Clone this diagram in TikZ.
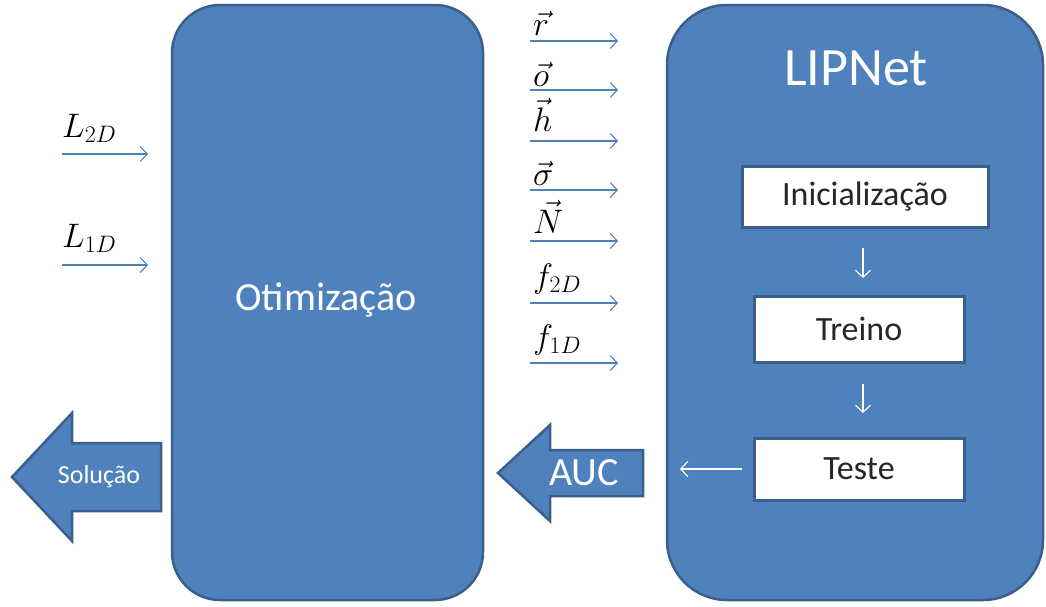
\RequirePackage{fix-cm}
\documentclass[tikz,border=0pt]{standalone}
\usepackage{fontspec}
\setmainfont{Carlito}
\usetikzlibrary{arrows.meta}
\definecolor{boxblue}{HTML}{4F81BD}
\definecolor{edgeblue}{HTML}{3A5F8C}
\tikzset{
  panel/.style={fill=boxblue, draw=edgeblue, line width=2.5pt},
  stage/.style={fill=white, draw=edgeblue, line width=3pt},
  stagetxt/.style={font=\fontsize{34}{38}\selectfont, text=black!85},
  feed/.style={draw=boxblue, line width=1.1pt, -{Straight Barb[length=7pt,width=15pt,line width=1.1pt]}},
  flow/.style={draw=white, line width=1.1pt, -{Straight Barb[length=7pt,width=15pt,line width=1.1pt]}},
  blockarrow/.style={fill=boxblue, draw=edgeblue, line width=2.5pt, line join=miter},
  mathlbl/.style={anchor=base west, inner sep=0pt, font=\fontsize{34}{38}\selectfont},
}
\begin{document}
\begin{tikzpicture}[x=1pt, y=-1pt]
\useasboundingbox (0,0) rectangle (1046,606);

% main panels
\draw[panel, rounded corners=48pt] (172,5) rectangle (483,600);
\node[text=white, font=\fontsize{40}{44}\selectfont] (otim) at (326,300) {Otimização};
\draw[panel, rounded corners=60pt] (667,5) rectangle (1043,600);
\node[text=white, font=\fontsize{54}{58}\selectfont] (lipnet) at (856,68) {LIPNet};

% LIPNet stages
\node[stage, minimum width=246pt, minimum height=61pt] (init) at (865,197) {};
\node[stagetxt] at (init) {Inicialização};
\node[stage, minimum width=210pt, minimum height=66pt] (treino) at (859,329) {};
\node[stagetxt] at (treino) {Treino};
\node[stage, minimum width=210pt, minimum height=62pt] (teste) at (859,469) {};
\node[stagetxt] at (teste) {Teste};

\coordinate (d1a) at (863,248); \coordinate (d1b) at (863,278);
\coordinate (d2a) at (863,384); \coordinate (d2b) at (863,413);
\coordinate (l1a) at (742,469); \coordinate (l1b) at (680,469);
\draw[flow] (d1a) -- (d1b);
\draw[flow] (d2a) -- (d2b);
\draw[flow] (l1a) -- (l1b);

% AUC block arrow
\draw[blockarrow] (498,473) -- (550,425) -- (550,450) -- (643,450) -- (643,496) -- (550,496) -- (550,521) -- cycle;
\node[text=white, font=\fontsize{40}{44}\selectfont] (auc) at (584,473) {AUC};

% Solucao block arrow
\draw[blockarrow] (12,477) -- (72,413) -- (72,443) -- (161,443) -- (161,511) -- (72,511) -- (72,541) -- cycle;
\node[text=white, font=\fontsize{26}{30}\selectfont] (sol) at (99,477) {Solução};

% inputs to Otimizacao
\coordinate (a1s) at (62,154); \coordinate (a1e) at (148,154);
\coordinate (a2s) at (62,265); \coordinate (a2e) at (148,265);
\draw[feed] (a1s) -- (a1e);
\draw[feed] (a2s) -- (a2e);
\node[mathlbl] (L2) at (62,137) {$L_{2D}$};
\node[mathlbl] (L1) at (62,247) {$L_{1D}$};

% parameters passed to LIPNet
\foreach \nm/\yy/\lbl/\ly in {r/41/{\vec{r}}/35, o/90/{\vec{o}}/86, h/141/{\vec{h}}/131, s/190/{\vec{\sigma}}/185, N/241/{\vec{N}}/233, f2/303/{f_{2D}}/287, f1/363/{f_{1D}}/348}{
  \coordinate (p\nm s) at (530,\yy);
  \coordinate (p\nm e) at (618,\yy);
  \draw[feed] (p\nm s) -- (p\nm e);
  \node[mathlbl] (lbl\nm) at (533,\ly) {$\lbl$};
}
\end{tikzpicture}
\end{document}
